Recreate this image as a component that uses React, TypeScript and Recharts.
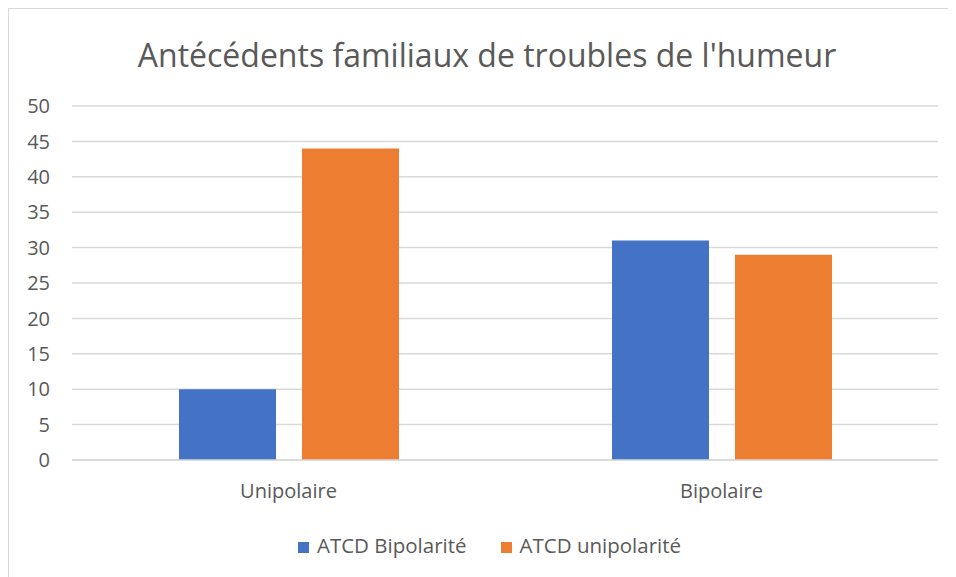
import React from "react";
import { BarChart, Bar, XAxis, YAxis, CartesianGrid, Legend } from "recharts";

const categories = ["Unipolaire", "Bipolaire"];
const atcdBipolarite = [10, 31];
const atcdUnipolarite = [44, 29];
const yTicks = [0, 5, 10, 15, 20, 25, 30, 35, 40, 45, 50];

const data = categories.map((c, i) => ({
  name: c,
  bip: atcdBipolarite[i],
  uni: atcdUnipolarite[i],
}));

const FONT = "'Open Sans', sans-serif";
const TXT = "#595959";

export default function App() {
  return (
    <div
      style={{
        position: "relative",
        width: 960,
        height: 580,
        border: "1px solid #d9d9d9",
        background: "#fff",
        fontFamily: FONT,
      }}
    >
      <div
        style={{
          position: "absolute",
          left: 0,
          top: 24,
          width: 956,
          textAlign: "center",
          fontSize: 32,
          color: TXT,
          fontFamily: FONT,
          lineHeight: "44px",
        }}
      >
        Antécédents familiaux de troubles de l'humeur
      </div>
      <BarChart
        width={947}
        height={568}
        data={data}
        margin={{ top: 97, right: 18, left: 0, bottom: 39 }}
        barSize={97}
        barGap={26}
      >
        <CartesianGrid vertical={false} stroke="#d9d9d9" strokeWidth={1.5} />
        <XAxis
          dataKey="name"
          axisLine={{ stroke: "#d9d9d9", strokeWidth: 1.5 }}
          tickLine={false}
          tickSize={0}
          tickMargin={24}
          height={50}
          tick={{ fill: TXT, fontSize: 20, fontFamily: FONT }}
        />
        <YAxis
          domain={[0, 50]}
          ticks={yTicks}
          interval={0}
          axisLine={false}
          tickLine={false}
          tickSize={0}
          tickMargin={22}
          width={63}
          tick={{ fill: TXT, fontSize: 20, fontFamily: FONT }}
        />
        <Legend
          verticalAlign="bottom"
          align="center"
          iconType="square"
          iconSize={11}
          wrapperStyle={{ fontSize: 20.5, fontFamily: FONT, top: 522, left: 33 }}
          formatter={(v) => (
            <span style={{ color: TXT, marginLeft: 4, marginRight: 24 }}>{v}</span>
          )}
        />
        <Bar dataKey="bip" name="ATCD Bipolarité" fill="#4472C4" isAnimationActive={false} />
        <Bar dataKey="uni" name="ATCD unipolarité" fill="#ED7D31" isAnimationActive={false} />
      </BarChart>
    </div>
  );
}
